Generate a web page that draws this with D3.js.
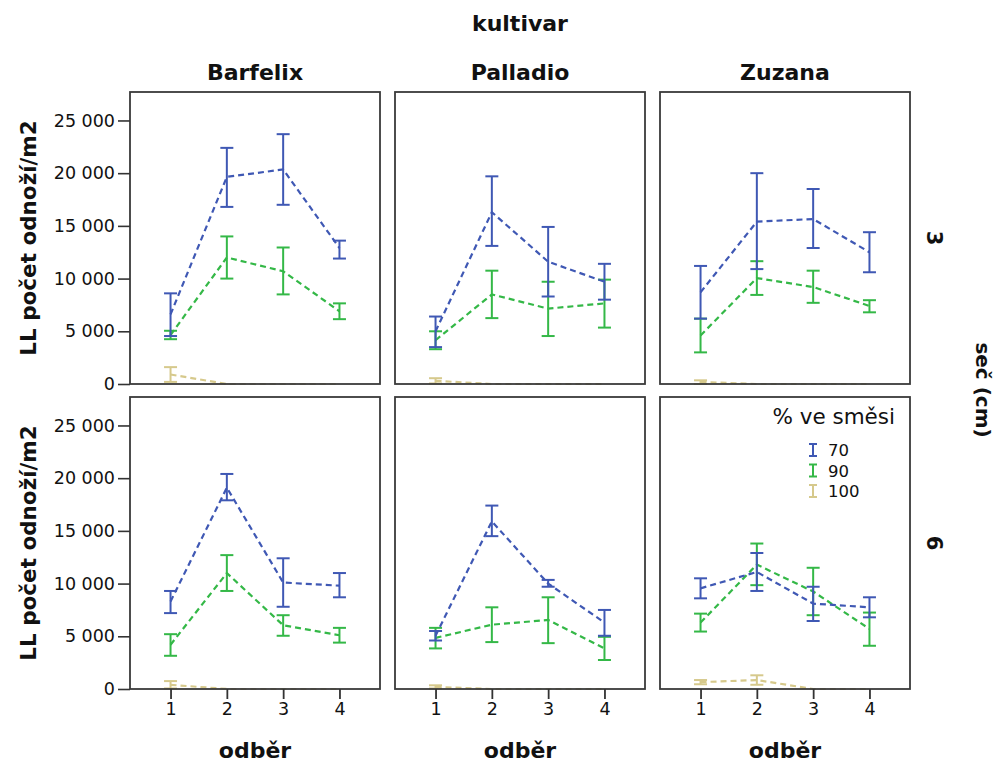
<!DOCTYPE html>
<html>
<head>
<meta charset="utf-8">
<script src="https://cdn.jsdelivr.net/npm/d3@7"></script>
<style>
  html, body { margin: 0; padding: 0; background: #fff; }
  svg { display: block; }
  text { font-family: "DejaVu Sans", sans-serif; fill: #111; }
</style>
</head>
<body>
<svg id="chart" width="1001" height="762"></svg>
<script>
// Facet definitions
const kultivar = ["Barfelix", "Palladio", "Zuzana"];
const sec = ["3", "6"];
const odber = [1, 2, 3, 4];
const smes = ["70", "90", "100"];
const yTicks = [0, 5000, 10000, 15000, 20000, 25000];

// Means and 95% CI per panel; row order: sec 3 (Barfelix, Palladio, Zuzana), sec 6 (Barfelix, Palladio, Zuzana)
const mean70 = [
  [6600, 19650, 20350, 12900],
  [5000, 16300, 11600, 9700],
  [8700, 15400, 15650, 12500],
  [8300, 19100, 10100, 9800],
  [5050, 15900, 10000, 6300],
  [9550, 11100, 8100, 7750]
];
const low70 = [
  [4550, 16800, 17000, 11900],
  [3500, 13100, 8300, 8000],
  [6200, 10900, 12900, 10600],
  [7200, 17900, 7800, 8700],
  [4600, 14500, 9700, 5050],
  [8600, 9300, 6450, 6800]
];
const high70 = [
  [8600, 22400, 23700, 13600],
  [6400, 19700, 14900, 11400],
  [11200, 20000, 18500, 14400],
  [9300, 20400, 12400, 11000],
  [5500, 17400, 10350, 7500],
  [10500, 12900, 9700, 8700]
];

const mean90 = [
  [4650, 12000, 10700, 6900],
  [4150, 8500, 7150, 7650],
  [4600, 10050, 9200, 7400],
  [4200, 11000, 6050, 5100],
  [4850, 6100, 6550, 3850],
  [6300, 11800, 9250, 5700]
];
const low90 = [
  [4250, 10000, 8500, 6150],
  [3300, 6250, 4550, 5350],
  [3000, 8450, 7700, 6800],
  [3150, 9300, 5050, 4400],
  [3850, 4450, 4350, 2750],
  [5450, 9850, 7000, 4100]
];
const high90 = [
  [5050, 14000, 12950, 7650],
  [5000, 10750, 9700, 9900],
  [6200, 11650, 10750, 7950],
  [5200, 12700, 7000, 5800],
  [5800, 7750, 8700, 4950],
  [7150, 13800, 11500, 7250]
];

const mean100 = [
  [900, 0, 0, 0],
  [300, 0, 0, 0],
  [200, 0, 0, 0],
  [400, 0, 0, 0],
  [200, 0, 0, 0],
  [650, 850, 0, 0]
];
const low100 = [
  [200, 0, 0, 0],
  [50, 0, 0, 0],
  [0, 0, 0, 0],
  [50, 0, 0, 0],
  [50, 0, 0, 0],
  [450, 400, 0, 0]
];
const high100 = [
  [1600, 0, 0, 0],
  [550, 0, 0, 0],
  [350, 0, 0, 0],
  [750, 0, 0, 0],
  [350, 0, 0, 0],
  [850, 1300, 0, 0]
];

const seriesColors = ["#3f58b4", "#34b847", "#d6c98c"];

const series = [
  { key: smes[0], mean: mean70, low: low70, high: high70, color: seriesColors[0] },
  { key: smes[1], mean: mean90, low: low90, high: high90, color: seriesColors[1] },
  { key: smes[2], mean: mean100, low: low100, high: high100, color: seriesColors[2] }
];

// Layout
const panelW = 250, panelH = 292;
const colLeft = [130, 395, 660];
const rowTop = [92, 397];

const svg = d3.select("#chart");

const x = d3.scalePoint().domain(odber).range([0, panelW]).padding(0.72);
const y = d3.scaleLinear().domain([0, 27700]).range([panelH, 0]);

const fmt = v => v === 0 ? "0" : d3.format(",")(v).replace(/,/g, " ");

sec.forEach((s, r) => {
  kultivar.forEach((k, c) => {
    const idx = r * 3 + c;
    const g = svg.append("g")
      .attr("transform", `translate(${colLeft[c]},${rowTop[r]})`);

    // panel background
    g.append("rect")
      .attr("width", panelW).attr("height", panelH)
      .attr("fill", "#fff");

    // series: dashed mean line + CI bars
    series.slice().reverse().forEach(se => {
      const pts = odber.map((o, i) => ({
        o, m: se.mean[idx][i], lo: se.low[idx][i], hi: se.high[idx][i]
      }));
      const line = d3.line().x(d => x(d.o)).y(d => y(d.m));
      g.append("path")
        .datum(pts)
        .attr("d", line)
        .attr("fill", "none")
        .attr("stroke", se.color)
        .attr("stroke-width", 2.2)
        .attr("stroke-dasharray", "6,4");

      const bars = g.append("g").selectAll("g")
        .data(pts.filter(d => d.hi > d.lo))
        .join("g")
        .attr("stroke", se.color)
        .attr("stroke-width", 2);
      bars.append("line")
        .attr("x1", d => x(d.o)).attr("x2", d => x(d.o))
        .attr("y1", d => y(d.lo)).attr("y2", d => y(d.hi));
      bars.append("line")
        .attr("x1", d => x(d.o) - 6.5).attr("x2", d => x(d.o) + 6.5)
        .attr("y1", d => y(d.hi)).attr("y2", d => y(d.hi));
      bars.append("line")
        .attr("x1", d => x(d.o) - 6.5).attr("x2", d => x(d.o) + 6.5)
        .attr("y1", d => y(d.lo)).attr("y2", d => y(d.lo));
    });

    // frame
    g.append("rect")
      .attr("width", panelW).attr("height", panelH)
      .attr("fill", "none")
      .attr("stroke", "#3a3a3a")
      .attr("stroke-width", 1.8);

    // y axis on first column
    if (c === 0) {
      const ax = g.append("g")
        .call(d3.axisLeft(y).tickValues(yTicks).tickFormat(fmt).tickSize(12).tickPadding(3))
        .call(a => a.select(".domain").remove());
      ax.selectAll("line").attr("stroke", "#333").attr("stroke-width", 1.6);
      ax.selectAll("text")
        .style("font-family", "DejaVu Sans, sans-serif")
        .style("font-size", "17.5px")
        .attr("fill", "#222");
    }

    // x axis on bottom row
    if (r === 1) {
      const ax = g.append("g")
        .attr("transform", `translate(0,${panelH})`)
        .call(d3.axisBottom(x).tickSize(10).tickPadding(4))
        .call(a => a.select(".domain").remove());
      ax.selectAll("line").attr("stroke", "#333").attr("stroke-width", 1.8);
      ax.selectAll("text")
        .style("font-family", "DejaVu Sans, sans-serif")
        .style("font-size", "17.5px")
        .attr("fill", "#222");

      svg.append("text")
        .attr("x", colLeft[c] + panelW / 2)
        .attr("y", 758)
        .attr("text-anchor", "middle")
        .style("font-size", "22px")
        .style("font-weight", "bold")
        .text("odběr");
    }

    // column titles
    if (r === 0) {
      svg.append("text")
        .attr("x", colLeft[c] + panelW / 2)
        .attr("y", 80)
        .attr("text-anchor", "middle")
        .style("font-size", "22px")
        .style("font-weight", "bold")
        .text(k);
    }
  });

  // y axis label per row
  const cy = rowTop[r] + panelH / 2;
  svg.append("text")
    .attr("transform", `translate(36,${cy}) rotate(-90)`)
    .attr("text-anchor", "middle")
    .style("font-size", "21.5px")
    .style("font-weight", "bold")
    .text("LL počet odnoží/m2");

  // row facet label
  svg.append("text")
    .attr("transform", `translate(927,${cy}) rotate(90)`)
    .attr("text-anchor", "middle")
    .style("font-size", "21px")
    .style("font-weight", "bold")
    .text(s);
});

// facet variable titles
svg.append("text")
  .attr("x", 520).attr("y", 31)
  .attr("text-anchor", "middle")
  .style("font-size", "22px")
  .style("font-weight", "bold")
  .text("kultivar");

svg.append("text")
  .attr("transform", `translate(976,390) rotate(90)`)
  .attr("text-anchor", "middle")
  .style("font-size", "20px")
  .style("font-weight", "bold")
  .text("seč (cm)");

// legend
const lg = svg.append("g");
lg.append("text")
  .attr("x", 895).attr("y", 424)
  .attr("text-anchor", "end")
  .style("font-size", "21.5px")
  .text("% ve směsi");
series.forEach((se, i) => {
  const yy = 450 + i * 20.5;
  const item = lg.append("g").attr("stroke", se.color).attr("stroke-width", 2);
  item.append("line").attr("x1", 813).attr("x2", 813).attr("y1", yy - 6).attr("y2", yy + 6);
  item.append("line").attr("x1", 809).attr("x2", 817).attr("y1", yy - 6).attr("y2", yy - 6);
  item.append("line").attr("x1", 809).attr("x2", 817).attr("y1", yy + 6).attr("y2", yy + 6);
  lg.append("text")
    .attr("x", 828).attr("y", yy + 6)
    .style("font-size", "16.5px")
    .text(se.key);
});
</script>
</body>
</html>
